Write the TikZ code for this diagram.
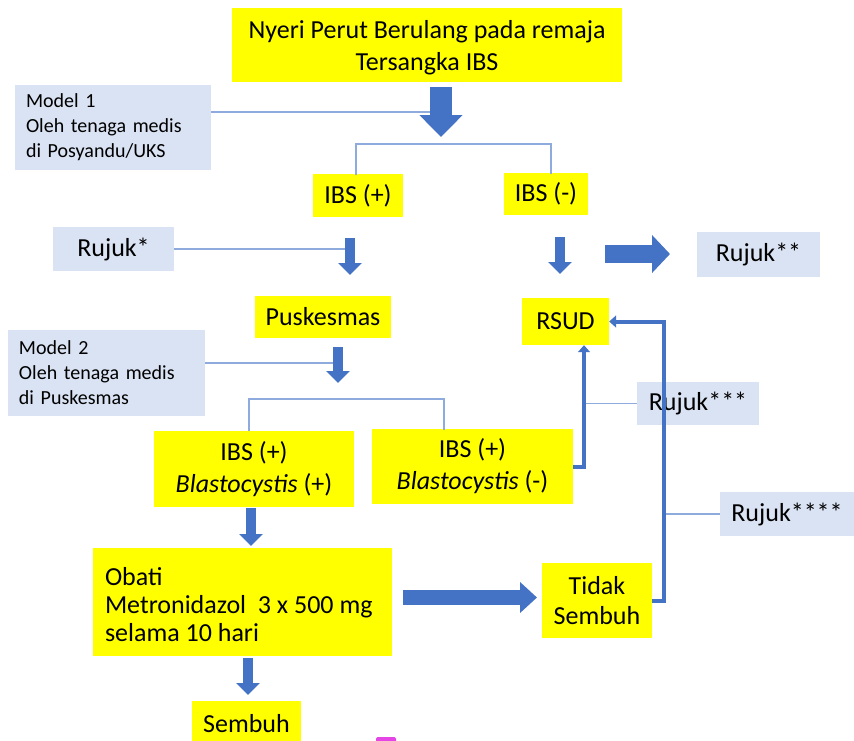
\documentclass[tikz,border=0pt]{standalone}
\usepackage{fontspec}
\setmainfont{Carlito}
\usetikzlibrary{arrows.meta}
\definecolor{ylw}{HTML}{FFFF00}
\definecolor{lbox}{HTML}{DAE3F3}
\definecolor{ablue}{HTML}{4472C4}
\definecolor{tline}{HTML}{8FAADC}
\definecolor{blob}{HTML}{E445E4}
\begin{document}
\begin{tikzpicture}[x=1pt,y=-1pt,
  ybox/.style={fill=ylw, inner sep=0pt, align=center, font=\fontsize{26}{32}\selectfont},
  bbox/.style={fill=lbox, inner sep=0pt, align=center, font=\fontsize{26}{32}\selectfont},
  mbox/.style={fill=lbox, inner ysep=0pt, inner xsep=11pt, align=left, font=\fontsize{20}{25}\selectfont},
  thinline/.style={draw=tline, line width=1.6pt},
  bigarrow/.style={draw=ablue, line width=22pt, -{Triangle[width=42pt,length=22pt]}},
  smallarrow/.style={draw=ablue, line width=10pt, -{Triangle[width=23pt,length=12pt]}},
  wideright/.style={draw=ablue, line width=18pt, -{Triangle[width=37pt,length=18pt]}},
  longright/.style={draw=ablue, line width=15pt, -{Triangle[width=30pt,length=17pt]}},
  loopline/.style={draw=ablue, line width=4pt, -{Triangle[width=12pt,length=7pt]}}
]
\clip (0,0) rectangle (854,740);
\fill[white] (0,0) rectangle (854,740);

% nodes
\node[ybox, minimum width=390pt, minimum height=74pt] (top) at (427,45) {};
\node[align=center, inner sep=0pt, font=\fontsize{26}{32}\selectfont] (toptext) at (427,48)
  {Nyeri Perut Berulang pada remaja\\Tersangka IBS};
\node[mbox, text width=174pt, minimum height=85pt] (m1) at (113,127.5)
  {Model 1\\Oleh tenaga medis\\di Posyandu/UKS};
\node[ybox, minimum width=90pt, minimum height=43pt] (ibsp) at (358,195.5) {IBS (+)};
\node[ybox, minimum width=84pt, minimum height=42pt] (ibsm) at (546,194) {IBS (-)};
\node[bbox, minimum width=121pt, minimum height=44pt] (rj1) at (113.5,249) {Rujuk*};
\node[bbox, minimum width=123pt, minimum height=45pt] (rj2) at (758.5,254.5) {Rujuk**};
\node[ybox, minimum width=136pt, minimum height=42pt] (pusk) at (323,317) {Puskesmas};
\node[ybox, minimum width=87pt, minimum height=47pt] (rsud) at (565.5,321.5) {RSUD};
\node[mbox, text width=175pt, minimum height=86pt] (m2) at (106.5,373)
  {Model 2\\Oleh tenaga medis\\di Puskesmas};
\node[bbox, minimum width=122pt, minimum height=43pt] (rj3) at (698,403.5) {Rujuk***};
\node[ybox, minimum width=200pt, minimum height=76pt] (bp) at (254,469)
  {IBS (+)\\\textit{Blastocystis} (+)};
\node[ybox, minimum width=201pt, minimum height=75pt] (bm) at (472.5,466.5)
  {IBS (+)\\\textit{Blastocystis} (-)};
\node[bbox, minimum width=134pt, minimum height=44pt] (rj4) at (787,514) {Rujuk****};
\node[ybox, minimum width=110pt, minimum height=75pt, font=\fontsize{26}{30}\selectfont] (tidak) at (597,600.5)
  {Tidak\\Sembuh};
\node[ybox, minimum width=299pt, minimum height=108pt] (obati) at (242.5,602) {};
\node[anchor=west, align=left, inner sep=0pt, font=\fontsize{26}{28}\selectfont] (obatitext)
  at ([xshift=12pt,yshift=-3pt]obati.west)
  {Obati\\Metronidazol~ 3 x 500 mg\\selama 10 hari};
\node[ybox, minimum width=109pt, minimum height=46pt] (sembuh) at (246.5,724) {Sembuh};

% helper coordinates
\coordinate (a1s) at (441,87);
\coordinate (a1e) at (441,137);
\coordinate (a2s) at (350,238);
\coordinate (a2e) at (350,275);
\coordinate (a3s) at (560,237);
\coordinate (a3e) at (560,274);
\coordinate (a4s) at (605,254);
\coordinate (a4e) at (670,254);
\coordinate (a5s) at (338,347);
\coordinate (a5e) at (338,383);
\coordinate (a6s) at (251,508);
\coordinate (a6e) at (251,546);
\coordinate (a7s) at (403,597.5);
\coordinate (a7e) at (537,597.5);
\coordinate (a8s) at (248,658);
\coordinate (a8e) at (248,695);
\coordinate (xl) at (584,0);
\coordinate (xr) at (664,0);
\coordinate (yfoot) at (0,467);
\coordinate (m1end) at (431,112);
\coordinate (rj1end) at (346,249);
\coordinate (m2end) at (334,363);

% thin connectors
\draw[thinline] (m1.east |- m1end) -- (m1end);
\draw[thinline] (rj1.east) -- (rj1end);
\draw[thinline] (m2.east |- m2end) -- (m2end);
\draw[thinline] (356,175) -- (356,144) -- (551,144) -- (551,174);
\draw[thinline] (249,431) -- (249,399) -- (444,399) -- (444,430);
\draw[thinline] (rj3.west) -- (rj3.west -| xl);
\draw[thinline] (rj4.west) -- (rj4.west -| xr);

% block arrows
\draw[bigarrow] (a1s) -- (a1e);
\draw[smallarrow] (a2s) -- (a2e);
\draw[smallarrow] (a3s) -- (a3e);
\draw[wideright] (a4s) -- (a4e);
\draw[smallarrow] (a5s) -- (a5e);
\draw[smallarrow] (a6s) -- (a6e);
\draw[longright] (a7s) -- (a7e);
\draw[smallarrow] (a8s) -- (a8e);

% referral loops to RSUD
\draw[loopline] (bm.east |- yfoot) -- (xl |- yfoot) -- (rsud.south -| xl);
\draw[loopline] (tidak.east) -- (tidak.east -| xr) -- (rsud.east -| xr) -- (rsud.east);

% small magenta mark at bottom edge
\fill[blob, rounded corners=1.5pt] (376,737) rectangle (396,745);
\end{tikzpicture}
\end{document}
